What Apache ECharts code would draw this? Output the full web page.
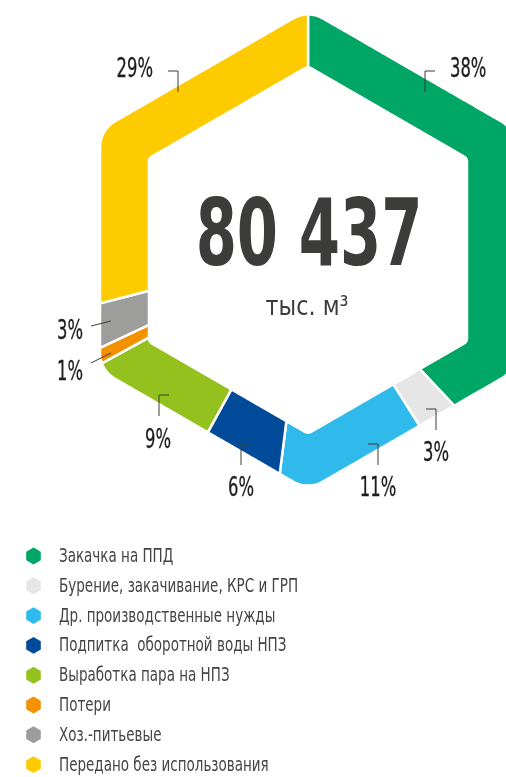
<!DOCTYPE html>
<html>
<head>
<meta charset="utf-8">
<script src="https://cdn.jsdelivr.net/npm/echarts@6/dist/echarts.min.js"></script>
<style>
  html, body { margin: 0; padding: 0; background: #ffffff; }
  #chart { width: 506px; height: 777px; }
</style>
</head>
<body>
<div id="chart"></div>
<script>
// Water use structure, shares of the total volume (%)
const categories = [
  'Закачка на ППД',
  'Бурение, закачивание, КРС и ГРП',
  'Др. производственные нужды',
  'Подпитка  оборотной воды НПЗ',
  'Выработка пара на НПЗ',
  'Потери',
  'Хоз.-питьевые',
  'Передано без использования'
];
const shares = [38, 3, 11, 6, 9, 1, 3, 29];
const totalVolume = '80 437';
const unitLabel = 'тыс. м³';
const colors = ['#00a665', '#e6e6e6', '#2fbaeb', '#004b99', '#95c11f', '#f39200', '#9d9d9c', '#fecb00'];

// Layout of the hexagonal ring
const CX = 308, CY = 250;
const OUTER = { ap: 208, rc: 30 };
const INNER = { ap: 159, rc: 6 };
const NARROW = '"DejaVu Sans Condensed", "Liberation Sans Narrow", sans-serif';

// Leader/label placement for each slice, relative to the ring centre
const labelLayout = [
  { elbow: [117, -179], tick: 10, text: [142, -180], align: 'left' },
  { elbow: [128, 159], tick: -10, text: [128, 204], align: 'center' },
  { elbow: [70, 194], tick: -10, text: [70, 239], align: 'center' },
  { elbow: [-67, 194], tick: 10, text: [-67, 239], align: 'center' },
  { elbow: [-149, 145], tick: 10, text: [-150, 191], align: 'center' },
  { line: [[-197, 103], [-217, 113]], text: [-225, 123], align: 'right' },
  { line: [[-197, 71], [-217, 76]], text: [-225, 82], align: 'right' },
  { elbow: [-130, -179], tick: -10, text: [-155, -180], align: 'right' }
];

// Legend block placement
const LEGEND_X = 26, LEGEND_Y = 556, LEGEND_STEP = 29.8, LEGEND_TEXT_X = 59;

const total = shares.reduce((a, b) => a + b, 0);
const startAngles = [];
shares.reduce((acc, v, i) => { startAngles[i] = acc / total * 360; return acc + v; }, 0);

// Pointy-top hexagon helpers
const S3 = Math.sqrt(3) / 2;
function hexVerts(ap) {
  const R = ap / S3, vs = [];
  for (let i = 0; i < 6; i++) {
    const a = (-90 + 60 * i) * Math.PI / 180;
    vs.push([R * Math.cos(a), R * Math.sin(a)]);
  }
  return vs;
}
function segDist(px, py, ax, ay, bx, by) {
  const dx = bx - ax, dy = by - ay;
  let t = ((px - ax) * dx + (py - ay) * dy) / (dx * dx + dy * dy);
  t = Math.max(0, Math.min(1, t));
  const qx = ax + t * dx - px, qy = ay + t * dy - py;
  return Math.sqrt(qx * qx + qy * qy);
}
function hexDist(x, y, ap, vs) {
  let inside = true;
  for (let i = 0; i < 6; i++) {
    const a = (-60 + 60 * i) * Math.PI / 180;
    if (x * Math.cos(a) + y * Math.sin(a) > ap) { inside = false; break; }
  }
  if (inside) return 0;
  let best = Infinity;
  for (let i = 0; i < 6; i++) {
    const p = vs[i], q = vs[(i + 1) % 6];
    best = Math.min(best, segDist(x, y, p[0], p[1], q[0], q[1]));
  }
  return best;
}
// Distance from centre to the rounded hexagon outline along a direction (deg, clockwise from top)
function radiusAt(deg, shape) {
  const core = shape.ap - shape.rc;
  const vs = hexVerts(core);
  const t = deg * Math.PI / 180, dx = Math.sin(t), dy = -Math.cos(t);
  let lo = 0, hi = shape.ap * 1.4;
  for (let k = 0; k < 40; k++) {
    const mid = (lo + hi) / 2;
    if (hexDist(mid * dx, mid * dy, core, vs) - shape.rc > 0) hi = mid; else lo = mid;
  }
  return (lo + hi) / 2;
}
function ringPoint(deg, shape) {
  const r = radiusAt(deg, shape), t = deg * Math.PI / 180;
  return [CX + r * Math.sin(t), CY - r * Math.cos(t)];
}
function slicePolygon(a0, a1) {
  const n = Math.max(2, Math.ceil((a1 - a0) / 0.25));
  const outer = [], inner = [];
  for (let i = 0; i <= n; i++) {
    const a = a0 + (a1 - a0) * i / n;
    outer.push(ringPoint(a, OUTER));
    inner.push(ringPoint(a, INNER));
  }
  return outer.concat(inner.reverse());
}

function makeRenderItem(k) {
  return function (params, api) {
    const a0 = startAngles[k];
    const a1 = a0 + api.value(0) / total * 360;
    const lay = labelLayout[k];
    const children = [{
      type: 'polygon',
      shape: { points: slicePolygon(a0, a1) },
      style: { fill: api.visual('color'), stroke: '#ffffff', lineWidth: 2.5 }
    }];
    let pts;
    if (lay.line) {
      pts = lay.line.map(p => [CX + p[0], CY + p[1]]);
    } else {
      const ex = CX + lay.elbow[0], ey = CY + lay.elbow[1];
      pts = [[ex + lay.tick, ey], [ex, ey], [ex, ey + 21]];
    }
    children.push({
      type: 'polyline', z2: 5,
      shape: { points: pts },
      style: { stroke: '#3c3c3b', lineWidth: 1, fill: null }
    });
    children.push({
      type: 'text', z2: 6,
      x: CX + lay.text[0], y: CY + lay.text[1], scaleX: 0.7,
      style: {
        text: api.value(0) + '%',
        fill: '#1d1d1b',
        stroke: '#1d1d1b',
        lineWidth: 0.3,
        font: '26px ' + NARROW,
        align: lay.align,
        verticalAlign: 'middle'
      }
    });
    return { type: 'group', children };
  };
}

// Hexagon marker + caption for each category
function legendGraphics() {
  const items = [];
  categories.forEach((name, i) => {
    const y = LEGEND_Y + i * LEGEND_STEP;
    items.push({
      type: 'polygon',
      shape: { points: hexVerts(7.3).map(p => [LEGEND_X + 7.5 + p[0], y + p[1]]) },
      style: { fill: colors[i] }
    });
    items.push({
      type: 'text', x: LEGEND_TEXT_X, y: y + 1, scaleX: 0.79,
      style: {
        text: name, fill: '#444443',
        font: '19px ' + NARROW,
        align: 'left', verticalAlign: 'middle'
      }
    });
  });
  return items;
}

const chart = echarts.init(document.getElementById('chart'), null, { renderer: 'canvas' });
chart.setOption({
  animation: false,
  backgroundColor: '#ffffff',
  graphic: [
    {
      type: 'text', x: 309, y: 241, scaleX: 0.708,
      style: {
        text: totalVolume, fill: '#3c3c3b',
        font: 'bold 93px ' + NARROW,
        align: 'center', verticalAlign: 'middle'
      }
    },
    {
      type: 'text', x: 307, y: 308, scaleX: 0.92,
      style: {
        text: unitLabel, fill: '#3c3c3b',
        font: '27px ' + NARROW,
        align: 'center', verticalAlign: 'middle'
      }
    }
  ].concat(legendGraphics()),
  series: categories.map((name, k) => ({
    type: 'custom',
    name: name,
    coordinateSystem: 'none',
    itemStyle: { color: colors[k] },
    data: [[shares[k]]],
    renderItem: makeRenderItem(k)
  }))
});
</script>
</body>
</html>
